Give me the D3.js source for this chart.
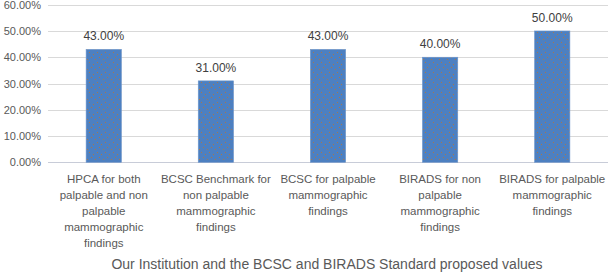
<!DOCTYPE html>
<html>
<head>
<meta charset="utf-8">
<script src="https://cdn.jsdelivr.net/npm/d3@7"></script>
<style>
  body { margin: 0; background: #fff; }
  svg { display: block; font-family: "Liberation Sans", Arial, sans-serif; }
</style>
</head>
<body>
<svg id="vis"></svg>
<script>
// chart values
const categories = [
    ["HPCA for both", "palpable and non", "palpable", "mammographic", "findings"],
    ["BCSC Benchmark for", "non palpable", "mammographic", "findings"],
    ["BCSC for palpable", "mammographic", "findings"],
    ["BIRADS for non", "palpable", "mammographic", "findings"],
    ["BIRADS for palpable", "mammographic", "findings"]
];
const values = [43, 31, 43, 40, 50];
const yTicks = [0, 10, 20, 30, 40, 50, 60];
const xTitle = "Our Institution and the BCSC and BIRADS Standard proposed values";

const width = 610;
const height = 272;
const margin = {top: 5, left: 48, right: 2, bottom: 110};

const svg = d3.select("#vis").attr("width", width).attr("height", height);

// dotted fill for the bars
const defs = svg.append("defs");
const pat = defs.append("pattern")
    .attr("id", "dots")
    .attr("patternUnits", "userSpaceOnUse")
    .attr("width", 8).attr("height", 10);
pat.append("rect").attr("width", 8).attr("height", 10).attr("fill", "#4D80C1");
[[1, 2], [5, 4], [3, 7], [7, 9]].forEach(p => {
    pat.append("rect").attr("x", p[0]).attr("y", p[1])
        .attr("width", 1).attr("height", 1).attr("fill", "#A9774A");
});

const xScale = d3.scaleBand()
    .domain(d3.range(values.length))
    .range([margin.left, width - margin.right])
    .paddingInner(0.685)
    .paddingOuter(0.34);

const yScale = d3.scaleLinear()
    .domain([0, 60])
    .range([162.3, 4.7]);

// gridlines
svg.append("g").selectAll("line")
    .data(yTicks)
    .join("line")
    .attr("x1", margin.left).attr("x2", 608)
    .attr("y1", d => Math.round(yScale(d)) + 0.5)
    .attr("y2", d => Math.round(yScale(d)) + 0.5)
    .attr("stroke", d => d === 0 ? "#C8CCD8" : "#D9D9D9")
    .attr("stroke-width", 1);

// y tick labels
const yAxis = d3.axisLeft(yScale).tickValues(yTicks)
    .tickFormat(d => d.toFixed(2) + "%").tickSize(0).tickPadding(0);
const gy = svg.append("g").attr("transform", "translate(41,0)").call(yAxis);
gy.select(".domain").remove();
gy.selectAll("text").attr("font-size", "11px").attr("fill", "#595959")
    .attr("font-family", "Liberation Sans, Arial, sans-serif");

// bars
svg.append("g").selectAll("rect")
    .data(values)
    .join("rect")
    .attr("x", (d, i) => xScale(i))
    .attr("y", d => yScale(d))
    .attr("width", xScale.bandwidth())
    .attr("height", d => yScale(0) - yScale(d))
    .attr("fill", "url(#dots)")
    .attr("stroke", "#6E97CC")
    .attr("stroke-width", 0.6);

// value labels
svg.append("g").selectAll("text")
    .data(values)
    .join("text")
    .attr("x", (d, i) => xScale(i) + xScale.bandwidth() / 2)
    .attr("y", d => yScale(d) - 9)
    .attr("text-anchor", "middle")
    .attr("font-size", "12px")
    .attr("fill", "#404040")
    .text(d => d.toFixed(2) + "%");

// category labels
const catG = svg.append("g").selectAll("text")
    .data(categories)
    .join("text")
    .attr("text-anchor", "middle")
    .attr("font-size", "11.5px")
    .attr("fill", "#595959");
catG.selectAll("tspan")
    .data((d, i) => d.map(t => ({t, i})))
    .join("tspan")
    .attr("x", d => xScale(d.i) + xScale.bandwidth() / 2)
    .attr("y", (d, j) => 183 + j * 16)
    .text(d => d.t);

// axis title
svg.append("text")
    .attr("x", 327)
    .attr("y", 269)
    .attr("text-anchor", "middle")
    .attr("font-size", "14px")
    .attr("fill", "#595959")
    .text(xTitle);
</script>
</body>
</html>
